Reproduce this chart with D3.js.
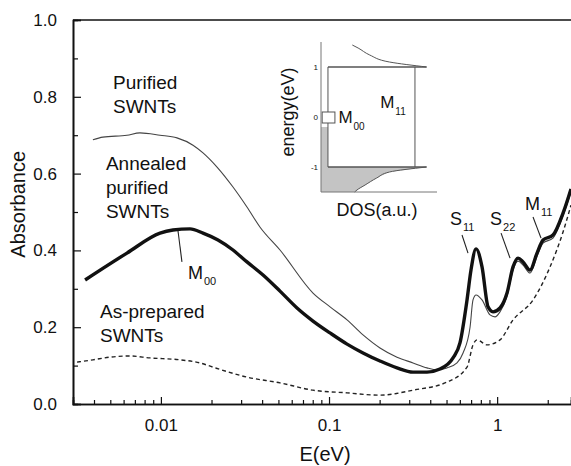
<!DOCTYPE html>
<html>
<head>
<meta charset="utf-8">
<script src="https://cdn.jsdelivr.net/npm/d3@7"></script>
<style>
  body { margin: 0; background: #fff; }
  text { font-family: "Liberation Sans", Arial, sans-serif; fill: #111; }
</style>
</head>
<body>
<div id="my_dataviz"></div>
<script>
// ---- data: [E (eV), absorbance]
var purified = [
  [0.00394, 0.688], [0.00452, 0.695], [0.00628, 0.700], [0.00751, 0.706], [0.00988, 0.700],
  [0.01246, 0.693], [0.01552, 0.674], [0.0178, 0.654], [0.02157, 0.617], [0.02684, 0.565],
  [0.0325, 0.513], [0.0388, 0.461], [0.0511, 0.401], [0.0803, 0.289], [0.1014, 0.253],
  [0.128, 0.219], [0.1593, 0.180], [0.201, 0.146], [0.2537, 0.122], [0.316, 0.107],
  [0.3827, 0.094], [0.439, 0.089], [0.503, 0.094], [0.577, 0.107], [0.627, 0.133],
  [0.690, 0.200], [0.7185, 0.271], [0.749, 0.284], [0.813, 0.271], [0.907, 0.232],
  [0.971, 0.227], [1.040, 0.240], [1.145, 0.281], [1.243, 0.349], [1.331, 0.372],
  [1.426, 0.362], [1.569, 0.341], [1.727, 0.385], [1.875, 0.419], [2.149, 0.432],
  [2.466, 0.490], [2.75, 0.552]
];
var annealed = [
  [0.00354, 0.323], [0.00628, 0.393], [0.00988, 0.445], [0.0118, 0.453], [0.0149, 0.456],
  [0.0178, 0.445], [0.02186, 0.427], [0.02684, 0.401], [0.0325, 0.370], [0.0405, 0.336],
  [0.0511, 0.294], [0.0645, 0.250], [0.0803, 0.216], [0.1014, 0.185], [0.128, 0.156],
  [0.1593, 0.133], [0.201, 0.112], [0.2537, 0.094], [0.316, 0.083], [0.3827, 0.083],
  [0.457, 0.091], [0.5465, 0.120], [0.601, 0.159], [0.662, 0.271], [0.699, 0.349],
  [0.749, 0.404], [0.813, 0.357], [0.883, 0.253], [0.945, 0.240], [1.040, 0.250],
  [1.145, 0.289], [1.243, 0.357], [1.331, 0.380], [1.426, 0.370], [1.569, 0.349],
  [1.727, 0.393], [1.875, 0.427], [2.149, 0.440], [2.466, 0.497], [2.75, 0.560]
];
var asPrepared = [
  [0.00317, 0.109], [0.00394, 0.115], [0.00498, 0.122], [0.00655, 0.125], [0.00861, 0.120],
  [0.013, 0.115], [0.0171, 0.107], [0.0204, 0.096], [0.0325, 0.070], [0.0511, 0.055],
  [0.0803, 0.036], [0.128, 0.029], [0.201, 0.023], [0.316, 0.036], [0.503, 0.057],
  [0.662, 0.096], [0.7185, 0.154], [0.759, 0.167], [0.871, 0.154], [1.040, 0.167],
  [1.243, 0.219], [1.635, 0.271], [2.064, 0.357], [2.466, 0.448], [2.75, 0.518]
];

var xMajor = [0.01, 0.1, 1];
var xMajorLabels = ["0.01", "0.1", "1"];
var xMinor = [0.004, 0.005, 0.006, 0.007, 0.008, 0.009,
  0.02, 0.03, 0.04, 0.05, 0.06, 0.07, 0.08, 0.09,
  0.2, 0.3, 0.4, 0.5, 0.6, 0.7, 0.8, 0.9, 2];
var yMajor = [0.0, 0.2, 0.4, 0.6, 0.8, 1.0];
var yMinor = [0.1, 0.3, 0.5, 0.7, 0.9];

// sample labels: text lines, left x (E), first baseline (A)
var sampleLabels = [
  {lines: ["Purified", "SWNTs"], E: 0.00519, A: 0.820},
  {lines: ["Annealed", "purified", "SWNTs"], E: 0.00471, A: 0.609},
  {lines: ["As-prepared", "SWNTs"], E: 0.00434, A: 0.224}
];
// peak labels: letter, subscript, text position, pointer from/to
var peakLabels = [
  {main: "M", sub: "00", E: 0.01449, A: 0.3255, from: [0.01264, 0.4505], to: [0.01334, 0.370]},
  {main: "S", sub: "11", E: 0.5245, A: 0.466, from: [0.618, 0.440], to: [0.671, 0.393]},
  {main: "S", sub: "22", E: 0.907, A: 0.466, from: [1.055, 0.445], to: [1.193, 0.380]},
  {main: "M", sub: "11", E: 1.465, A: 0.505, from: [1.635, 0.487], to: [1.824, 0.432]}
];

// inset: density of states sketch, [DOS (a.u.), energy (eV)]
var dosUpper = [[9.1, 1.0], [5.9, 1.1], [4.2, 1.24], [3.2, 1.38], [2.7, 1.44]];
var dosLower = [[9.1, -1.0], [5.9, -1.1], [4.8, -1.22], [3.8, -1.36], [3.1, -1.46], [2.9, -1.5]];
var dosMetal = 0.6;     // flat DOS between the singularities
var dosM11 = 8.1;       // M11 transition marker
var gapHalf = [0.1, -0.12], gapWidth = 1.2;
var insetTicks = [1, 0, -1];

// ---- layout
var W = 571, H = 466;
var margin = {top: 20, right: 0, bottom: 62, left: 73},
  width = W - margin.left - margin.right,
  height = H - margin.top - margin.bottom;

var svg = d3.select("#my_dataviz").append("svg")
  .attr("width", W).attr("height", H);

var g = svg.append("g")
  .attr("transform", "translate(" + margin.left + "," + margin.top + ")");

var x = d3.scaleLog().domain([0.003, 2.75]).range([0, width]);
var y = d3.scaleLinear().domain([0, 1]).range([height, 0]);

g.append("clipPath").attr("id", "clip")
  .append("rect").attr("width", width).attr("height", height);

// axes (ticks point inward)
var xAxisMinor = d3.axisBottom(x).tickValues(xMinor).tickSize(-4).tickFormat("");
var xAxisMajor = d3.axisBottom(x).tickValues(xMajor).tickSize(-7).tickPadding(15)
  .tickFormat(function(d, i) { return xMajorLabels[i]; });
var yAxisMinor = d3.axisLeft(y).tickValues(yMinor).tickSize(-5).tickFormat("");
var yAxisMajor = d3.axisLeft(y).tickValues(yMajor).tickSize(-8).tickPadding(16)
  .tickFormat(d3.format(".1f"));

g.append("g").attr("transform", "translate(0," + height + ")").call(xAxisMinor);
g.append("g").attr("class", "xmaj").attr("transform", "translate(0," + height + ")").call(xAxisMajor);
g.append("g").call(yAxisMinor);
g.append("g").attr("class", "ymaj").call(yAxisMajor);

g.selectAll(".domain").attr("stroke", "#111").attr("stroke-width", 1.6);
g.selectAll(".tick line").attr("stroke", "#111").attr("stroke-width", 1.2);
g.selectAll(".tick text").style("font-size", "17px").attr("fill", "#111");
g.selectAll(".xmaj .tick text").attr("dy", "0.71em");

// top frame line
g.append("line").attr("x1", 0).attr("x2", width).attr("y1", 0).attr("y2", 0)
  .attr("stroke", "#111").attr("stroke-width", 1.6);

// axis titles
svg.append("text")
  .attr("x", margin.left + x(0.1) - 4).attr("y", 461)
  .attr("text-anchor", "middle").style("font-size", "20px")
  .text("E(eV)");
svg.append("text")
  .attr("transform", "translate(25," + (margin.top + y(0.52)) + ") rotate(-90)")
  .attr("text-anchor", "middle").style("font-size", "20px")
  .text("Absorbance");

// curves
var line = d3.line()
  .x(function(d) { return x(d[0]); })
  .y(function(d) { return y(d[1]); })
  .curve(d3.curveMonotoneX);

var curves = g.append("g").attr("clip-path", "url(#clip)");
curves.append("path").datum(asPrepared).attr("d", line)
  .attr("fill", "none").attr("stroke", "#222").attr("stroke-width", 1.4)
  .attr("stroke-dasharray", "4,3");
curves.append("path").datum(purified).attr("d", line)
  .attr("fill", "none").attr("stroke", "#444").attr("stroke-width", 1.1);
curves.append("path").datum(annealed).attr("d", line)
  .attr("fill", "none").attr("stroke", "#111").attr("stroke-width", 3.4);

// sample labels
sampleLabels.forEach(function(s) {
  var t = g.append("text")
    .attr("x", x(s.E)).attr("y", y(s.A))
    .style("font-size", "19px");
  s.lines.forEach(function(l, i) {
    t.append("tspan").attr("x", x(s.E)).attr("dy", i == 0 ? 0 : 24).text(l);
  });
});

// peak labels and pointers
peakLabels.forEach(function(p) {
  g.append("line")
    .attr("x1", x(p.from[0])).attr("y1", y(p.from[1]))
    .attr("x2", x(p.to[0])).attr("y2", y(p.to[1]))
    .attr("stroke", "#222").attr("stroke-width", 1.1);
  var t = g.append("text").attr("x", x(p.E)).attr("y", y(p.A))
    .style("font-size", "18px");
  t.append("tspan").text(p.main);
  t.append("tspan").attr("dy", 6).attr("dx", 1).style("font-size", "11px").text(p.sub);
});

// ---- inset
var ix = d3.scaleLinear().domain([0, 10]).range([321, 437]);
var iy = d3.scaleLinear().domain([-1.5, 1.5]).range([192, 42]);
var inset = svg.append("g");
var grey = "#c4c4c4", ink = "#555";

// occupied states shading
inset.append("rect")
  .attr("x", ix(0)).attr("y", iy(-0.2))
  .attr("width", ix(dosMetal) - ix(0)).attr("height", iy(-1) - iy(-0.2))
  .attr("fill", grey);
var lowerArea = d3.area()
  .x0(ix(0)).x1(function(d) { return ix(d[0]); })
  .y(function(d) { return iy(d[1]); });
inset.append("path").datum(dosLower).attr("d", lowerArea).attr("fill", grey);

var iline = d3.line()
  .x(function(d) { return ix(d[0]); })
  .y(function(d) { return iy(d[1]); })
  .curve(d3.curveMonotoneY);
inset.append("path").datum(dosUpper).attr("d", iline)
  .attr("fill", "none").attr("stroke", ink).attr("stroke-width", 1);
inset.append("path").datum(dosLower).attr("d", iline)
  .attr("fill", "none").attr("stroke", ink).attr("stroke-width", 1);

// band edges and flat DOS
[1, -1].forEach(function(e) {
  inset.append("line").attr("x1", ix(dosMetal)).attr("x2", ix(9.1))
    .attr("y1", iy(e)).attr("y2", iy(e))
    .attr("stroke", ink).attr("stroke-width", 1.3);
});
inset.append("line").attr("x1", ix(dosMetal)).attr("x2", ix(dosMetal))
  .attr("y1", iy(1)).attr("y2", iy(-1)).attr("stroke", ink).attr("stroke-width", 1);
inset.append("line").attr("x1", ix(dosM11)).attr("x2", ix(dosM11))
  .attr("y1", iy(1)).attr("y2", iy(-1)).attr("stroke", ink).attr("stroke-width", 1);

// pseudogap (M00) box
inset.append("rect")
  .attr("x", ix(0.1)).attr("y", iy(gapHalf[0]))
  .attr("width", ix(gapWidth) - ix(0.1)).attr("height", iy(gapHalf[1]) - iy(gapHalf[0]))
  .attr("fill", "#fff").attr("stroke", ink).attr("stroke-width", 1);

// inset axes
inset.append("line").attr("x1", ix(0)).attr("x2", ix(0))
  .attr("y1", iy(1.5)).attr("y2", iy(-1.5)).attr("stroke", "#777").attr("stroke-width", 1);
inset.append("line").attr("x1", ix(0)).attr("x2", ix(10))
  .attr("y1", iy(-1.5)).attr("y2", iy(-1.5)).attr("stroke", "#777").attr("stroke-width", 1);
inset.selectAll(".itick").data(insetTicks).enter().append("text")
  .attr("x", ix(0) - 3).attr("y", function(d) { return iy(d) + 3; })
  .attr("text-anchor", "end").style("font-size", "8px")
  .text(function(d) { return d; });

inset.append("text").attr("x", 377).attr("y", 216)
  .attr("text-anchor", "middle").style("font-size", "18px").text("DOS(a.u.)");
inset.append("text").attr("transform", "translate(294," + iy(0.1) + ") rotate(-90)")
  .attr("text-anchor", "middle").style("font-size", "18px").text("energy(eV)");

var m00 = inset.append("text").attr("x", ix(1.5)).attr("y", iy(-0.12)).style("font-size", "17px");
m00.append("tspan").text("M");
m00.append("tspan").attr("dy", 7).attr("dx", 1).style("font-size", "10px").text("00");
var m11 = inset.append("text").attr("x", ix(5.1)).attr("y", iy(0.18)).style("font-size", "17px");
m11.append("tspan").text("M");
m11.append("tspan").attr("dy", 7).attr("dx", 1).style("font-size", "10px").text("11");
</script>
</body>
</html>
